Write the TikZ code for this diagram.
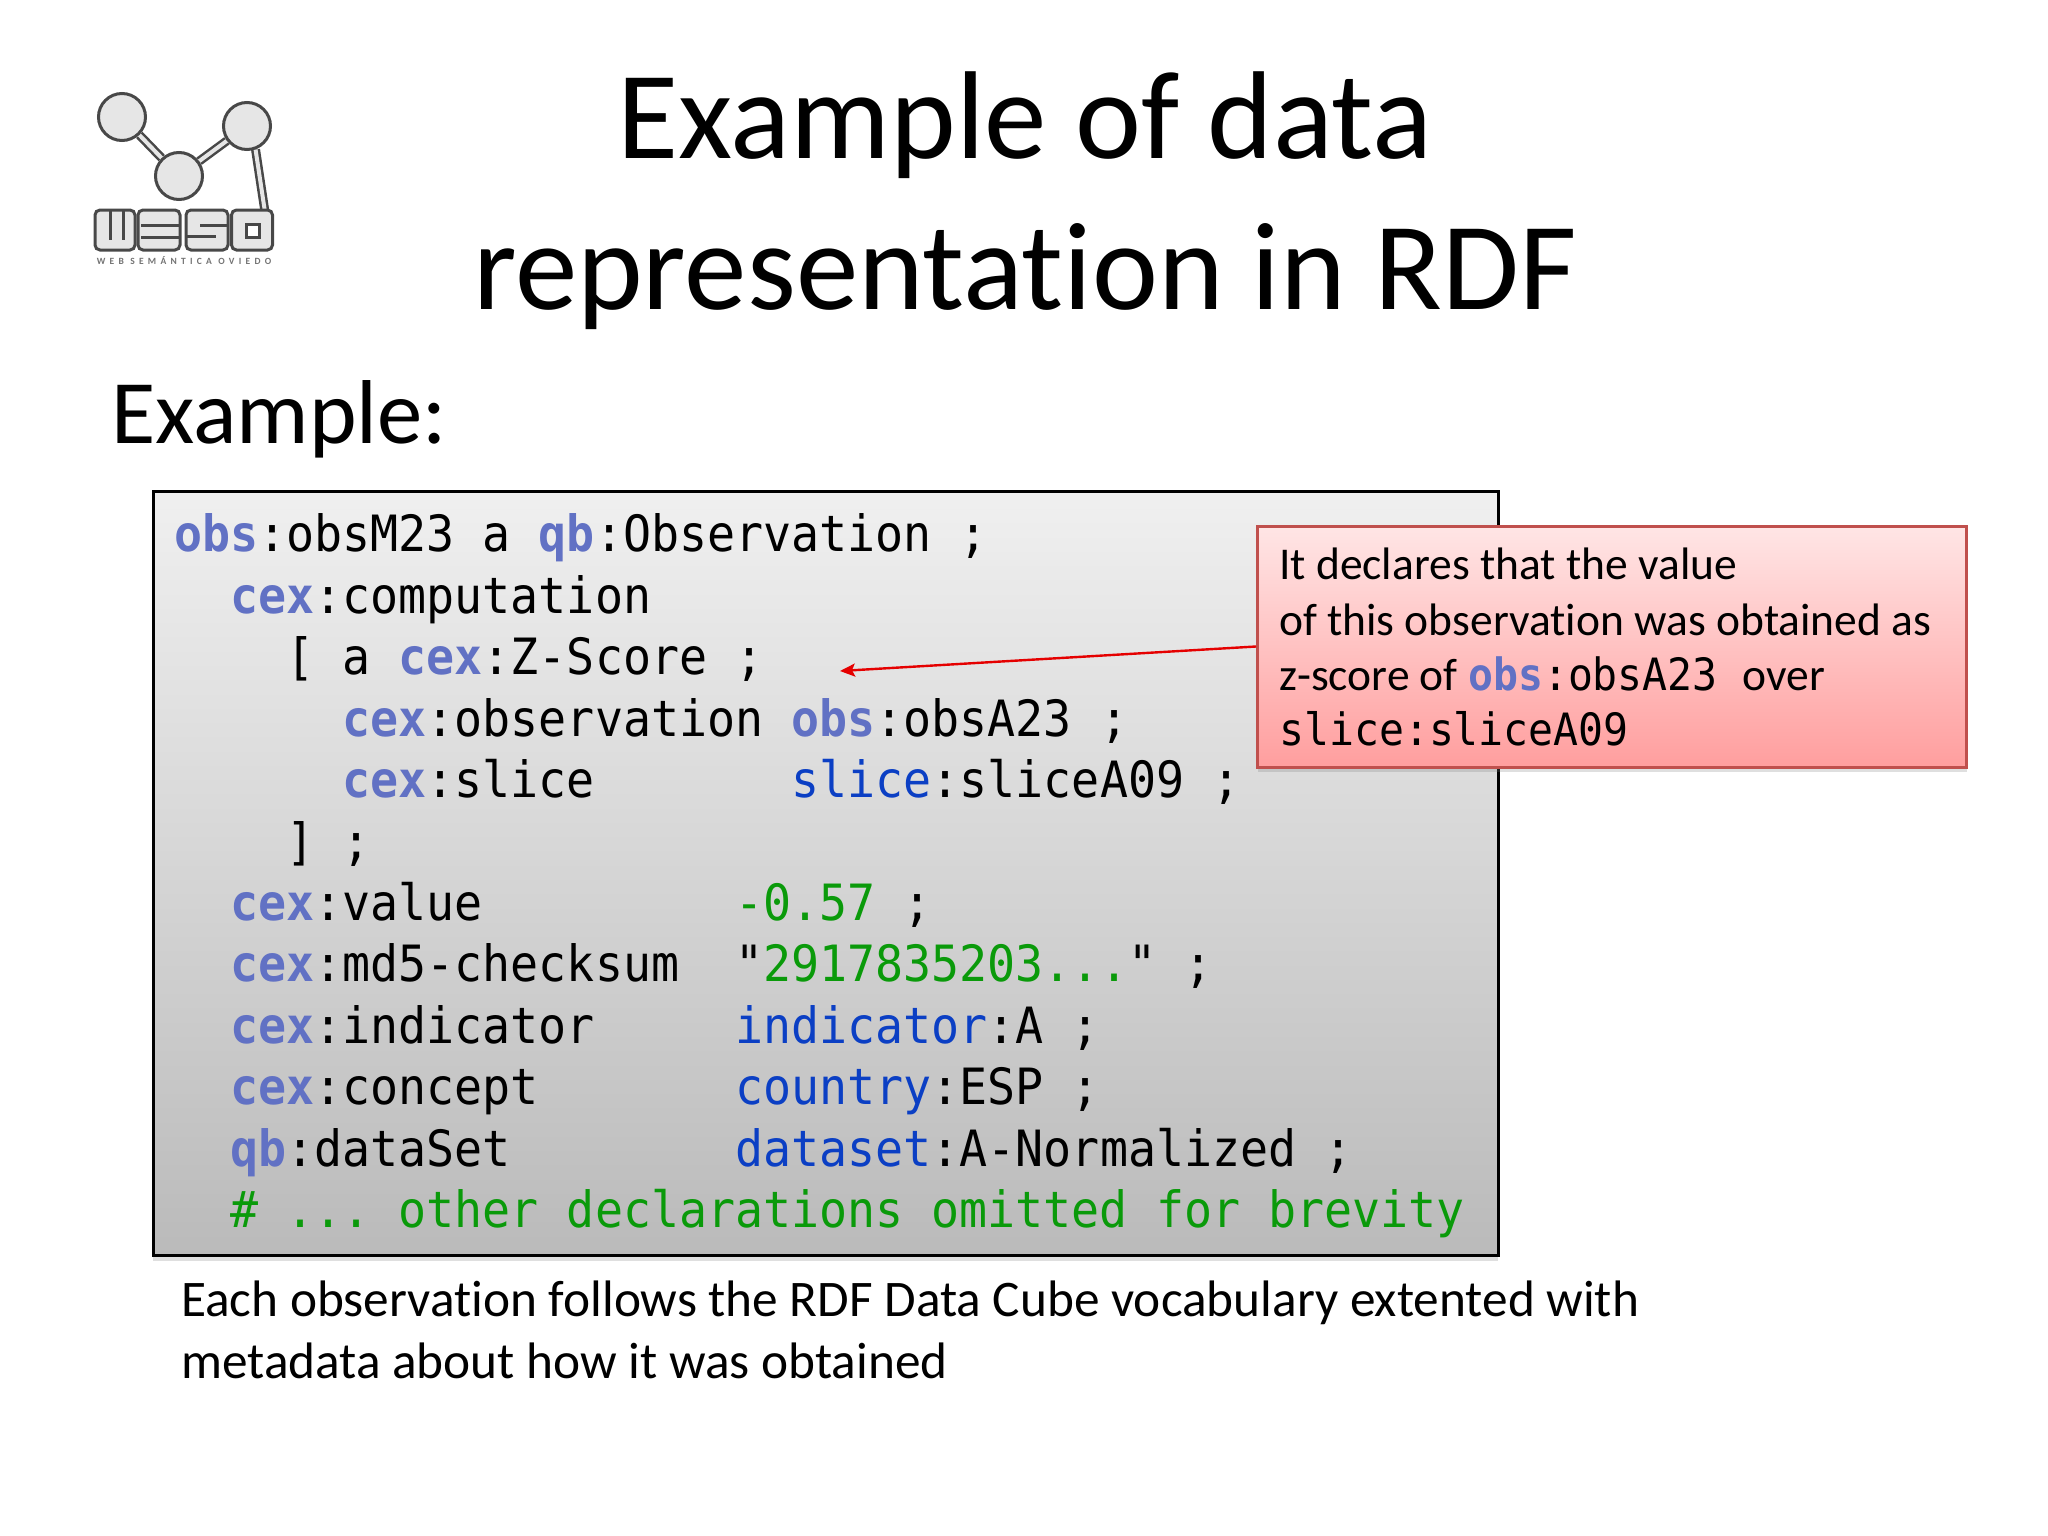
\documentclass[tikz,border=0pt]{standalone}
\usepackage{fontspec}
\setmainfont[Ligatures=NoCommon]{Carlito}
\newfontfamily\codefont[FakeStretch=0.932]{DejaVu Sans Mono}
\usepackage{tikz}
\usetikzlibrary{arrows.meta}
\usetikzlibrary{shadows}
\usetikzlibrary{backgrounds}

\definecolor{prefixblue}{HTML}{6171C4}
\definecolor{nameblue}{HTML}{0B3FC4}
\definecolor{litgreen}{HTML}{0A9A0A}
\definecolor{logoline}{HTML}{484848}
\definecolor{logofill}{HTML}{E6E6E6}
\definecolor{noteborder}{HTML}{C0504D}

\newcommand{\pfx}[1]{\textcolor{prefixblue}{\bfseries #1}}
\newcommand{\nms}[1]{\textcolor{nameblue}{#1}}
\newcommand{\lit}[1]{\textcolor{litgreen}{#1}}
\newcommand{\notecode}{\fontsize{44.5}{52}\selectfont\codefont}

\tikzset{
    codeline/.style={anchor=base west, inner sep=0pt, font=\fontsize{50}{60}\selectfont\codefont},
    noteline/.style={anchor=base west, inner sep=0pt, font=\fontsize{45.5}{52}\selectfont},
    titleline/.style={anchor=base, inner sep=0pt, font=\fontsize{125}{140}\selectfont},
    capline/.style={anchor=base west, inner sep=0pt, font=\fontsize{51.3}{58}\selectfont},
    ball/.style={circle, draw=logoline, fill=logofill, line width=3pt, minimum size=47pt, inner sep=0pt},
    stem/.style={draw=logoline, line width=9pt},
    stemin/.style={draw=logofill, line width=4pt},
    letter/.style={rectangle, rounded corners=5pt, draw=logoline, fill=logofill, line width=3pt, inner sep=0pt, minimum height=40pt},
    slit/.style={draw=logoline, line width=3pt}
}

\begin{document}
\frenchspacing
\begin{tikzpicture}[x=1pt, y=-1pt]
        \useasboundingbox (0,0) rectangle (2048,1536);

        % title
        \node (title1) at (1025,158) [titleline] {Example of data};
        \node (title2) at (1025,309) [titleline] {representation in RDF};
        \node (example) at (111,443) [anchor=base west, inner sep=0pt, font=\fontsize{90.7}{100}\selectfont] {Example:};

        % logo
        \node (ball1) at (122,117) [ball] {};
        \node (ball2) at (179,176) [ball] {};
        \node (ball3) at (247,126) [ball] {};
        \node (wW) at (115,230) [letter, minimum width=40pt] {};
        \node (wE) at (159,230) [letter, minimum width=42pt] {};
        \node (wS) at (207,230) [letter, minimum width=42pt] {};
        \node (wO) at (252,230) [letter, minimum width=41pt] {};
        \node (wOin) at (253,231) [rectangle, draw=logoline, fill=white, line width=3pt, minimum size=13pt, inner sep=0pt] {};
        \coordinate (stemend) at (265,212);
        \begin{scope}[on background layer]
            \draw [stem] (ball1) -- (ball2);
            \draw [stem] (ball2) -- (ball3);
            \draw [stem] (ball3.-70) -- (stemend);
            \draw [stemin] (ball1) -- (ball2);
            \draw [stemin] (ball2) -- (ball3);
            \draw [stemin] (ball3.-70) -- (stemend);
        \end{scope}
        \draw [slit] (110,211) -- (110,240);
        \draw [slit] (123,211) -- (123,240);
        \draw [slit] (141,225) -- (180,225);
        \draw [slit] (141,237) -- (180,237);
        \draw [slit] (200,225) -- (228,225);
        \draw [slit] (186,236) -- (216,236);
        \node (wesotag) at (184,261) [inner sep=0pt, text=black!55, font=\fontsize{9.5}{10}\selectfont\bfseries\addfontfeature{LetterSpace=45}] {WEB SEMÁNTICA OVIEDO};

        % code box
        \node (codebox) at (825.5,873.5) [rectangle, draw=black, line width=3pt, top color=black!6, bottom color=black!27,
            minimum width=1345pt, minimum height=764pt, drop shadow={shadow xshift=0pt, shadow yshift=-5pt, opacity=0.25}] {};

        \node (code1) at (174,551) [codeline] {\pfx{obs}:obsM23 a \pfx{qb}:Observation ;};
        \node (code2) at (174,613) [codeline] {~~\pfx{cex}:computation};
        \node (code3) at (174,674) [codeline] {~~~~[ a \pfx{cex}:Z-Score ;};
        \node (code4) at (174,736) [codeline] {~~~~~~\pfx{cex}:observation \pfx{obs}:obsA23 ;};
        \node (code5) at (174,797) [codeline] {~~~~~~\pfx{cex}:slice~~~~~~~\nms{slice}:sliceA09 ;};
        \node (code6) at (174,859) [codeline] {~~~~] ;};
        \node (code7) at (174,920) [codeline] {~~\pfx{cex}:value~~~~~~~~~\lit{-0.57} ;};
        \node (code8) at (174,981) [codeline] {~~\pfx{cex}:md5-checksum~~"\lit{2917835203...}" ;};
        \node (code9) at (174,1043) [codeline] {~~\pfx{cex}:indicator~~~~~\nms{indicator}:A ;};
        \node (code10) at (174,1104) [codeline] {~~\pfx{cex}:concept~~~~~~~\nms{country}:ESP ;};
        \node (code11) at (174,1166) [codeline] {~~\pfx{qb}:dataSet~~~~~~~~\nms{dataset}:A-Normalized ;};
        \node (code12) at (174,1227) [codeline] {~~\lit{\# ... other declarations omitted for brevity}};

        % note
        \node (note) at (1612,646.5) [rectangle, draw=noteborder, line width=3pt, top color=red!10, bottom color=red!38,
            minimum width=709pt, minimum height=241pt, drop shadow={shadow xshift=0pt, shadow yshift=-5pt, opacity=0.25}] {};
        \node (note1) at (1279,579) [noteline] {It declares that the value};
        \node (note2) at (1279,635) [noteline] {of this observation was obtained as};
        \node (note3) at (1279,690) [noteline] {z-score of {\notecode\pfx{obs}:obsA23~}over};
        \node (note4) at (1279,745) [noteline, font=\notecode] {slice:sliceA09};

        \coordinate (tip) at (840,671);
        \draw [-{Stealth[length=15pt, width=13pt, inset=3pt]}, red!90!black, line width=2.4pt] (note.west) -- (tip);

        % caption
        \node (cap1) at (181,1316) [capline] {Each observation follows the RDF Data Cube vocabulary extented with};
        \node (cap2) at (181,1378) [capline] {metadata about how it was obtained};
    \end{tikzpicture}
\end{document}
